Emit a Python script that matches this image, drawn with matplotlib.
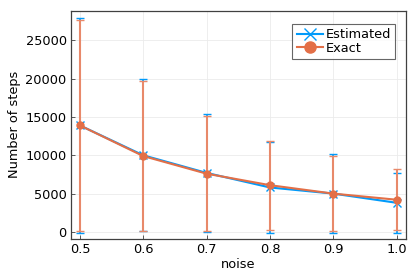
import matplotlib

matplotlib.use("Agg")
import matplotlib.pyplot as plt
from matplotlib.lines import Line2D

noise = [0.5, 0.6, 0.7, 0.8, 0.9, 1.0]

estimated_mean = [13900, 10000, 7700, 5800, 5000, 3800]
estimated_std = [14000, 9900, 7700, 6000, 5200, 3900]

exact_mean = [13900, 9900, 7600, 6100, 5000, 4200]
exact_std = [13800, 9800, 7500, 5800, 4900, 3950]

yticks = [0, 5000, 10000, 15000, 20000, 25000]
xticks = [0.5, 0.6, 0.7, 0.8, 0.9, 1.0]

BLUE = "#009AFA"
ORANGE = "#E36F47"
FRAME = "#404040"
FS = 9.3

plt.rcParams["font.family"] = "DejaVu Sans"
plt.rcParams["font.size"] = FS

fig = plt.figure(figsize=(4.17, 2.78), dpi=100)
ax = fig.add_axes([0.170, 0.142, 0.803, 0.819])

ax.errorbar(
    noise, estimated_mean, yerr=estimated_std,
    color=BLUE, ecolor=BLUE, elinewidth=1.2, capsize=3, capthick=1.0,
    marker="x", markersize=6, markeredgewidth=1.0, linewidth=1.5, zorder=2,
)
ax.errorbar(
    noise, exact_mean, yerr=exact_std,
    color=ORANGE, ecolor="#E8896A", elinewidth=1.5, capsize=3, capthick=1.0,
    marker="o", markersize=5, linewidth=1.5, zorder=3,
)

ax.set_xlim(0.4858, 1.0142)
ax.set_ylim(-860, 28850)
ax.set_xticks(xticks)
ax.set_xticklabels([f"{v:.1f}" for v in xticks])
ax.set_yticks(yticks)
ax.set_yticklabels([str(v) for v in yticks])
ax.grid(True, color="0.92", linewidth=0.6)
ax.set_axisbelow(True)
ax.tick_params(direction="in", length=3, width=0.6, color=FRAME, labelsize=FS, pad=3)
for side in ax.spines.values():
    side.set_color(FRAME)
    side.set_linewidth(0.9)

ax.set_xlabel("noise", fontsize=FS, labelpad=2)
ax.set_ylabel("Number of steps", fontsize=FS, labelpad=3)

handles = [
    Line2D([], [], color=BLUE, marker="x", markersize=9, markeredgewidth=1.0, linewidth=1.5),
    Line2D([], [], color=ORANGE, marker="o", markersize=8, linewidth=1.5),
]
leg = ax.legend(
    handles, ["Estimated", "Exact"],
    loc="upper right", bbox_to_anchor=(0.988, 0.972), frameon=True, fancybox=False,
    edgecolor=FRAME, fontsize=FS, handlelength=2.0, handletextpad=0.2,
    borderpad=0.35, labelspacing=0.05,
)
leg.get_frame().set_linewidth(0.8)

fig.savefig("out.png", dpi=100)
